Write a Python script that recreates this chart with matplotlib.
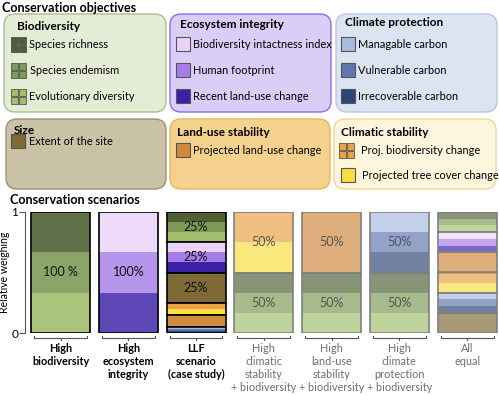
import numpy as np
import matplotlib
matplotlib.use('Agg')
import matplotlib.pyplot as plt
from matplotlib.patches import FancyBboxPatch, Rectangle

plt.rcParams['font.family'] = ['Lato', 'DejaVu Sans']

# objective groups and their components (top to bottom as stacked)
groups = ['Biodiversity', 'Ecosystem integrity', 'Climate protection',
          'Size', 'Land-use stability', 'Climatic stability']
group_items = {
    'Biodiversity': ['Species richness', 'Species endemism', 'Evolutionary diversity'],
    'Ecosystem integrity': ['Biodiversity intactness index', 'Human footprint', 'Recent land-use change'],
    'Climate protection': ['Managable carbon', 'Vulnerable carbon', 'Irrecoverable carbon'],
    'Size': ['Extent of the site'],
    'Land-use stability': ['Projected land-use change'],
    'Climatic stability': ['Proj. biodiversity change', 'Projected tree cover change'],
}
item_colors = {
    'Species richness': '#4f6134',
    'Species endemism': '#7e9a56',
    'Evolutionary diversity': '#a1be6d',
    'Biodiversity intactness index': '#ebd3f8',
    'Human footprint': '#a67de6',
    'Recent land-use change': '#3b20a8',
    'Managable carbon': '#a9badf',
    'Vulnerable carbon': '#5f77ae',
    'Irrecoverable carbon': '#2f4577',
    'Extent of the site': '#7d6a35',
    'Projected land-use change': '#cf8a3e',
    'Proj. biodiversity change': '#eaa145',
    'Projected tree cover change': '#f8de3e',
}
box_colors = {
    'Biodiversity': ('#e4ecd6', '#a9bd8c'),
    'Ecosystem integrity': ('#dacef6', '#8a70e0'),
    'Climate protection': ('#dce4f2', '#b8c6e6'),
    'Size': ('#c9c2a6', '#9c916f'),
    'Land-use stability': ('#f5d18e', '#e6b65c'),
    'Climatic stability': ('#fdf5dd', '#f1d792'),
}

# scenarios: group weights listed top to bottom
scenario_labels = ['High\nbiodiversity', 'High\necosystem\nintegrity', 'LLF\nscenario\n(case study)',
                   'High\nclimatic\nstability\n+ biodiversity', 'High\nland-use\nstability\n+ biodiversity',
                   'High\nclimate\nprotection\n+ biodiversity', 'All\nequal']
scenario_groups = [
    ['Biodiversity'],
    ['Ecosystem integrity'],
    ['Biodiversity', 'Ecosystem integrity', 'Size', 'Climatic stability', 'Land-use stability', 'Climate protection'],
    ['Climatic stability', 'Biodiversity'],
    ['Land-use stability', 'Biodiversity'],
    ['Climate protection', 'Biodiversity'],
    ['Biodiversity', 'Ecosystem integrity', 'Land-use stability', 'Climatic stability', 'Climate protection', 'Size'],
]
scenario_weights = [
    [1.0],
    [1.0],
    [0.25, 0.25, 0.25, 0.10, 0.10, 0.05],
    [0.5, 0.5],
    [0.5, 0.5],
    [0.5, 0.5],
    [1 / 6, 1 / 6, 1 / 6, 1 / 6, 1 / 6, 1 / 6],
]
scenario_text = [
    ['100 %'],
    ['100%'],
    ['25%', '25%', '25%', '', '', ''],
    ['50%', '50%'],
    ['50%', '50%'],
    ['50%', '50%'],
    ['', '', '', '', '', ''],
]
highlighted = [True, True, True, False, False, False, False]
bar_alpha = [0.9, 0.82, 1.0, 0.68, 0.68, 0.68, 0.68]


def draw_swatch(ax, x, y, color, grid=False, size=14):
    if grid:
        h = 8
        for dx in (0, h):
            for dy in (0, h):
                ax.add_patch(Rectangle((x + dx, y + dy), h - 1.2, h - 1.2, facecolor=color,
                                       edgecolor='#3a3a3a', lw=0.5))
    else:
        ax.add_patch(Rectangle((x, y), size, size, facecolor=color, edgecolor='#555555', lw=0.8))


def draw_box(ax, group, x0, y0, x1, y1, title_xy, items):
    fc, ec = box_colors[group]
    ax.add_patch(FancyBboxPatch((x0, y0), x1 - x0, y1 - y0,
                                boxstyle='round,pad=0,rounding_size=11',
                                facecolor=fc, edgecolor=ec, lw=1.0))
    ax.text(title_xy[0], title_xy[1], group, fontsize=8.5, fontweight='bold', va='center')
    for name, sx, sy, tx, grid in items:
        draw_swatch(ax, sx, sy, item_colors[name], grid)
        ax.text(tx, sy + 7.5, name, fontsize=7.9, va='center')


fig = plt.figure(figsize=(4.99, 3.95), dpi=100)
bg = fig.add_axes([0, 0, 1, 1])
bg.set_xlim(0, 499)
bg.set_ylim(395, 0)
bg.axis('off')

bg.text(2, 8, 'Conservation objectives', fontsize=9, fontweight='bold', va='center')
draw_box(bg, 'Biodiversity', 4, 14, 166, 112, (17, 27),
         [('Species richness', 11, 37, 29, True),
          ('Species endemism', 11, 63, 30, True),
          ('Evolutionary diversity', 11, 89, 29, True)])
draw_box(bg, 'Ecosystem integrity', 170, 14, 331, 112, (180, 25),
         [('Biodiversity intactness index', 176, 37, 193, False),
          ('Human footprint', 176, 63, 193, False),
          ('Recent land-use change', 176, 89, 193, False)])
draw_box(bg, 'Climate protection', 336, 14, 497, 112, (345, 23),
         [('Managable carbon', 341, 37, 358, False),
          ('Vulnerable carbon', 341, 63, 358, False),
          ('Irrecoverable carbon', 341, 89, 358, False)])
draw_box(bg, 'Size', 6, 119, 166, 189, (14, 131),
         [('Extent of the site', 11, 134, 29, False)])
draw_box(bg, 'Land-use stability', 170, 119, 330, 189, (177, 133),
         [('Projected land-use change', 176, 143, 193, False)])
draw_box(bg, 'Climatic stability', 334, 119, 496, 189, (341, 133),
         [('Proj. biodiversity change', 339, 143, 361, True),
          ('Projected tree cover change', 341, 168, 362, False)])
bg.text(10, 200, 'Conservation scenarios', fontsize=9, fontweight='bold', va='center')

# scenario bar chart
W, H = 499, 395
ax = fig.add_axes([25 / W, 1 - 333 / H, 474 / W, 121 / H])
ax.set_xlim(-0.524, 6.47)
ax.set_ylim(0, 1)
width = 0.87

for i in range(len(scenario_groups)):
    alpha = bar_alpha[i]
    edge = 'black' if highlighted[i] else '#808080'
    top = 1.0
    for g, w, txt in zip(scenario_groups[i], scenario_weights[i], scenario_text[i]):
        items = group_items[g]
        sub = w / len(items)
        y = top
        for name in items:
            ax.bar(i, sub, width, bottom=y - sub, color=item_colors[name], alpha=alpha, lw=0)
            y -= sub
        ax.bar(i, w, width, bottom=top - w, facecolor='none', edgecolor=edge, lw=1.2)
        if txt:
            ax.text(i, top - w / 2, txt, ha='center', va='center', fontsize=9,
                    color='#111111' if highlighted[i] else '#555555')
        top -= w
    # bracket under each bar
    l, r = i - 0.39, i + 0.39
    ax.plot([l, l, r, r], [-0.025, -0.045, -0.045, -0.025], color='#555555', lw=0.8, clip_on=False)
    ax.plot([i, i], [-0.045, -0.06], color='#555555', lw=0.8, clip_on=False)
    ax.text(i, -0.08, scenario_labels[i], ha='center', va='top', fontsize=7.8, linespacing=1.22,
            fontweight='bold' if highlighted[i] else 'normal',
            color='black' if highlighted[i] else '#6e6e6e')

ax.set_yticks([0, 1])
ax.set_yticklabels(['0', '1'], fontsize=8.5)
ax.set_xticks([])
for s in ['top', 'right', 'bottom']:
    ax.spines[s].set_visible(False)
ax.spines['left'].set_color('#555555')
ax.tick_params(axis='y', length=4, width=0.8, color='#555555', pad=1)
ax.set_ylabel('Relative weighing', fontsize=7.6, labelpad=1)
ax.patch.set_alpha(0)

fig.savefig('out.png', dpi=100)
